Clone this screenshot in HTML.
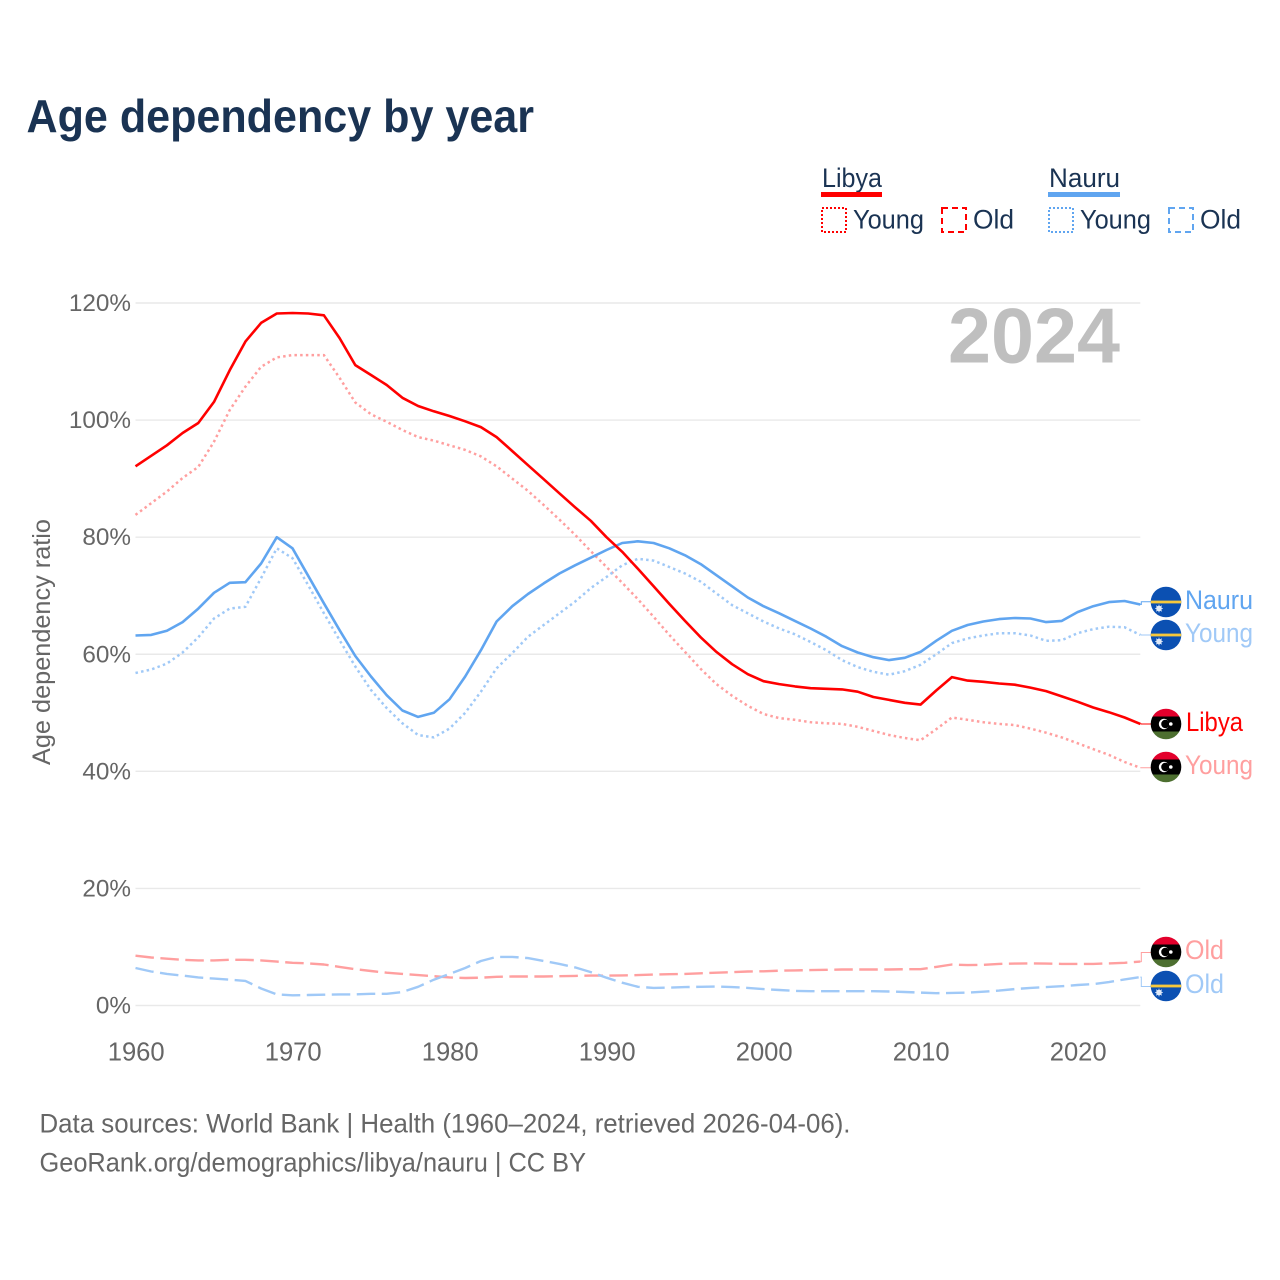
<!DOCTYPE html>
<html lang="en">
<head>
<meta charset="utf-8">
<title>Age dependency by year</title>
<style>
html,body{margin:0;padding:0;background:#fff;width:1280px;height:1280px;overflow:hidden}
svg{display:block}
text{font-family:"Liberation Sans",sans-serif}
</style>
</head>
<body>
<svg id="chart" xmlns="http://www.w3.org/2000/svg" width="1280" height="1280" viewBox="0 0 1280 1280">
  <defs>
    <clipPath id="flag-clip"><circle cx="0" cy="0" r="15.3"/></clipPath>
    <g id="flag-nauru" clip-path="url(#flag-clip)">
      <rect x="-16" y="-16" width="32" height="32" fill="#0b50b2"/>
      <rect x="-16" y="-1.4" width="32" height="2.8" fill="#f6c83c"/>
      <circle cx="-7" cy="6.5" r="2.8" fill="#e6eefa"/>
      <path d="M-7 2.6L-7 10.4M-10.9 6.5L-3.1 6.5M-9.8 3.7L-4.2 9.3M-9.8 9.3L-4.2 3.7" stroke="#dfe9f8" stroke-width="0.8"/>
    </g>
    <g id="flag-libya" clip-path="url(#flag-clip)">
      <rect x="-16" y="-16" width="32" height="9.5" fill="#e3002c"/>
      <rect x="-16" y="-7.5" width="32" height="15" fill="#000"/>
      <rect x="-16" y="7.5" width="32" height="8.5" fill="#4d6f30"/>
      <circle cx="-2" cy="0" r="5.2" fill="#fff"/>
      <circle cx="-0.6" cy="0" r="4.2" fill="#000"/>
      <circle cx="4.8" cy="0" r="1.8" fill="#fff"/>
    </g>
  </defs>

  <rect x="0" y="0" width="1280" height="1280" fill="#fff"/>

  <text x="26.5" y="132" font-size="46" font-weight="700" fill="#1a3353" textLength="507.5" lengthAdjust="spacingAndGlyphs">Age dependency by year</text>

  <g id="grid"></g>
  <g id="y-labels"></g>
  <g id="x-labels"></g>

  <text transform="translate(50,765) rotate(-90)" x="0" y="0" font-size="25" fill="#666" textLength="246" lengthAdjust="spacingAndGlyphs">Age dependency ratio</text>

  <text x="948" y="362.5" font-size="78" font-weight="700" fill="#bfbfbf" textLength="172" lengthAdjust="spacingAndGlyphs">2024</text>

  <g id="lines"></g>
  <g id="connectors"></g>

  <g>
    <text x="822" y="187" font-size="27" fill="#1a3353" textLength="60" lengthAdjust="spacingAndGlyphs">Libya</text>
    <rect x="821" y="192" width="61" height="5" fill="#ff0000"/>
    <rect x="822" y="208" width="24" height="24" fill="none" stroke="#ff0000" stroke-width="2" stroke-dasharray="2 2"/>
    <text x="853" y="228.5" font-size="27" fill="#1a3353" textLength="71" lengthAdjust="spacingAndGlyphs">Young</text>
    <rect x="942" y="208" width="24" height="24" fill="none" stroke="#ff0000" stroke-width="2" stroke-dasharray="6 4"/>
    <text x="973" y="228.5" font-size="27" fill="#1a3353" textLength="41" lengthAdjust="spacingAndGlyphs">Old</text>

    <text x="1049" y="187" font-size="27" fill="#1a3353" textLength="71" lengthAdjust="spacingAndGlyphs">Nauru</text>
    <rect x="1048" y="192" width="72" height="5" fill="#60a5f0"/>
    <rect x="1049" y="208" width="24" height="24" fill="none" stroke="#60a5f0" stroke-width="2" stroke-dasharray="2 2"/>
    <text x="1080" y="228.5" font-size="27" fill="#1a3353" textLength="71" lengthAdjust="spacingAndGlyphs">Young</text>
    <rect x="1169" y="208" width="24" height="24" fill="none" stroke="#60a5f0" stroke-width="2" stroke-dasharray="6 4"/>
    <text x="1200" y="228.5" font-size="27" fill="#1a3353" textLength="41" lengthAdjust="spacingAndGlyphs">Old</text>
  </g>

  <g>
    <use href="#flag-nauru" x="1166" y="602"/>
    <text x="1185" y="609" font-size="27" fill="#60a5f0" textLength="68" lengthAdjust="spacingAndGlyphs">Nauru</text>
    <use href="#flag-nauru" x="1166" y="635"/>
    <text x="1185" y="642" font-size="27" fill="#a0c9f7" textLength="68" lengthAdjust="spacingAndGlyphs">Young</text>
    <use href="#flag-libya" x="1166" y="724"/>
    <text x="1186" y="731" font-size="27" fill="#ff0000" textLength="57" lengthAdjust="spacingAndGlyphs">Libya</text>
    <use href="#flag-libya" x="1166" y="767"/>
    <text x="1185" y="774" font-size="27" fill="#ff9f9f" textLength="68" lengthAdjust="spacingAndGlyphs">Young</text>
    <use href="#flag-libya" x="1166" y="952"/>
    <text x="1185" y="959" font-size="27" fill="#ff9f9f" textLength="39" lengthAdjust="spacingAndGlyphs">Old</text>
    <use href="#flag-nauru" x="1166" y="986"/>
    <text x="1185" y="993" font-size="27" fill="#a0c9f7" textLength="39" lengthAdjust="spacingAndGlyphs">Old</text>
  </g>

  <text x="39.5" y="1132.5" font-size="27" fill="#666" textLength="811" lengthAdjust="spacingAndGlyphs">Data sources: World Bank | Health (1960–2024, retrieved 2026-04-06).</text>
  <text x="39.5" y="1171.5" font-size="27" fill="#666" textLength="546.5" lengthAdjust="spacingAndGlyphs">GeoRank.org/demographics/libya/nauru | CC BY</text>
</svg>

<script>
const xTickYears = [1960, 1970, 1980, 1990, 2000, 2010, 2020];
const yTickValues = [0, 20, 40, 60, 80, 100, 120];
const firstYear = 1960;
const lastYear = 2024;

const libyaTotal = [92.1,93.9,95.7,97.8,99.5,103.1,108.5,113.4,116.6,118.2,118.3,118.2,117.9,114.0,109.4,107.7,106.0,103.8,102.4,101.5,100.7,99.8,98.8,97.1,94.7,92.3,89.9,87.5,85.1,82.8,80.0,77.5,74.6,71.6,68.6,65.7,62.9,60.4,58.3,56.6,55.4,54.9,54.5,54.2,54.1,54.0,53.6,52.7,52.2,51.7,51.4,53.8,56.1,55.5,55.3,55.0,54.8,54.3,53.7,52.8,51.9,50.9,50.1,49.2,48.1];
const libyaYoung = [83.8,85.8,87.8,90.1,92.0,96.3,101.7,105.7,109.1,110.7,111.1,111.1,111.1,107.2,103.0,101.0,99.7,98.3,97.1,96.5,95.7,94.9,93.8,92.1,90.0,87.9,85.5,83.0,80.4,77.6,74.9,72.2,69.4,66.4,63.3,60.4,57.5,54.9,52.9,51.2,49.8,49.1,48.8,48.4,48.2,48.1,47.6,46.9,46.2,45.7,45.3,47.2,49.2,48.8,48.4,48.1,47.9,47.3,46.6,45.8,44.8,43.8,42.8,41.6,40.6];
const libyaOld = [8.5,8.2,8.0,7.8,7.7,7.7,7.8,7.8,7.7,7.5,7.3,7.2,7.0,6.6,6.2,5.9,5.6,5.4,5.2,5.0,4.8,4.7,4.75,4.9,4.95,4.95,4.95,5.0,5.05,5.1,5.1,5.15,5.2,5.3,5.35,5.4,5.5,5.6,5.7,5.8,5.85,5.95,6.0,6.05,6.1,6.15,6.15,6.15,6.15,6.2,6.2,6.6,7.0,6.9,6.95,7.1,7.15,7.2,7.15,7.1,7.1,7.1,7.2,7.3,7.5];
const nauruTotal = [63.2,63.3,64.0,65.5,67.8,70.5,72.2,72.3,75.5,80.0,78.1,73.4,68.7,64.1,59.7,56.2,53.0,50.4,49.3,50.0,52.3,56.2,60.7,65.6,68.2,70.3,72.1,73.8,75.2,76.5,77.8,79.0,79.3,79.0,78.1,76.9,75.4,73.5,71.6,69.7,68.2,67.0,65.7,64.4,63.0,61.4,60.3,59.5,59.0,59.4,60.4,62.3,64.0,65.0,65.6,66.0,66.2,66.1,65.5,65.7,67.2,68.2,68.9,69.1,68.5];
const nauruYoung = [56.8,57.4,58.4,60.3,62.9,66.1,67.8,68.1,73.0,78.1,76.4,71.8,67.0,62.4,57.9,53.9,50.8,48.2,46.2,45.8,47.3,50.0,53.6,57.6,60.2,63.0,65.0,67.0,69.0,71.3,73.2,75.2,76.3,76.0,74.9,73.8,72.4,70.4,68.4,67.0,65.6,64.4,63.4,62.1,60.7,59.0,57.8,57.0,56.5,57.1,58.2,60.0,61.9,62.7,63.2,63.6,63.6,63.2,62.3,62.4,63.6,64.3,64.7,64.6,63.3];
const nauruOld = [6.4,5.8,5.4,5.1,4.8,4.6,4.4,4.2,2.9,1.9,1.75,1.8,1.85,1.9,1.9,2.0,2.0,2.3,3.2,4.4,5.4,6.4,7.6,8.3,8.3,8.1,7.6,7.1,6.5,5.7,4.75,3.9,3.2,3.0,3.05,3.15,3.2,3.25,3.15,3.0,2.8,2.65,2.5,2.45,2.45,2.45,2.45,2.45,2.4,2.3,2.2,2.1,2.15,2.2,2.35,2.55,2.8,3.0,3.15,3.3,3.5,3.65,4.0,4.45,4.85];

const NS = 'http://www.w3.org/2000/svg';
const plotLeft = 135.5, plotRight = 1140.3, plotBottom = 1005.5, plotTop = 303;
const maxValue = 120;

function xScale(year) {
  return plotLeft + (year - firstYear) * (plotRight - plotLeft) / (lastYear - firstYear);
}
function yScale(value) {
  return plotBottom - value * (plotBottom - plotTop) / maxValue;
}
function make(tag, attrs) {
  const el = document.createElementNS(NS, tag);
  for (const k in attrs) el.setAttribute(k, attrs[k]);
  return el;
}

const gridG = document.getElementById('grid');
const yLabelG = document.getElementById('y-labels');
yTickValues.forEach(function (v) {
  const line = make('line', { x1: plotLeft, x2: plotRight, y1: yScale(v), y2: yScale(v), stroke: '#e9e9e9', 'stroke-width': 1.4 });
  
  
  gridG.appendChild(line);
  const label = make('text', { x: 131, y: yScale(v) + 8, 'text-anchor': 'end', 'font-size': 24.3, fill: '#666' });
  label.textContent = v + '%';
  
  
  yLabelG.appendChild(label);
});

const xLabelG = document.getElementById('x-labels');
xTickYears.forEach(function (yr) {
  const label = make('text', { x: xScale(yr) + 0.7, y: 1060.5, 'text-anchor': 'middle', 'font-size': 25.6, fill: '#666' });
  label.textContent = String(yr);
  
  
  xLabelG.appendChild(label);
});

const DOT = '2.5 3.2', DASH = '18.5 6.5';
const seriesList = [
  { id: 'libya-old', values: libyaOld, color: '#ff9f9f', dash: DASH, width: 2.4, labelY: 952.5 },
  { id: 'nauru-old', values: nauruOld, color: '#a0c9f7', dash: DASH, width: 2.4, labelY: 986.5 },
  { id: 'libya-young', values: libyaYoung, color: '#ff9f9f', dash: DOT, width: 2.5, labelY: 767.7 },
  { id: 'nauru-young', values: nauruYoung, color: '#a0c9f7', dash: DOT, width: 2.5, labelY: 635 },
  { id: 'nauru-total', values: nauruTotal, color: '#60a5f0', dash: '', width: 2.6, labelY: 601.7 },
  { id: 'libya-total', values: libyaTotal, color: '#ff0000', dash: '', width: 2.6, labelY: 724 }
];

const linesG = document.getElementById('lines');
const connG = document.getElementById('connectors');
seriesList.forEach(function (s) {
  const pts = s.values.map(function (v, i) {
    return xScale(firstYear + i).toFixed(1) + ',' + yScale(v).toFixed(1);
  }).join(' ');
  const attrs = { points: pts, fill: 'none', stroke: s.color, 'stroke-width': s.width, 'stroke-linejoin': 'round' };
  if (s.dash) attrs['stroke-dasharray'] = s.dash;
  const line = make('polyline', attrs);
  
  
  linesG.appendChild(line);

  const endY = yScale(s.values[s.values.length - 1]);
  const conn = make('path', {
    d: 'M' + plotRight + ' ' + endY.toFixed(1) + 'H' + (plotRight + 1) + 'V' + s.labelY + 'H1152',
    fill: 'none', stroke: s.color, 'stroke-width': 1
  });
  
  
  connG.appendChild(conn);
});
</script>
</body>
</html>
